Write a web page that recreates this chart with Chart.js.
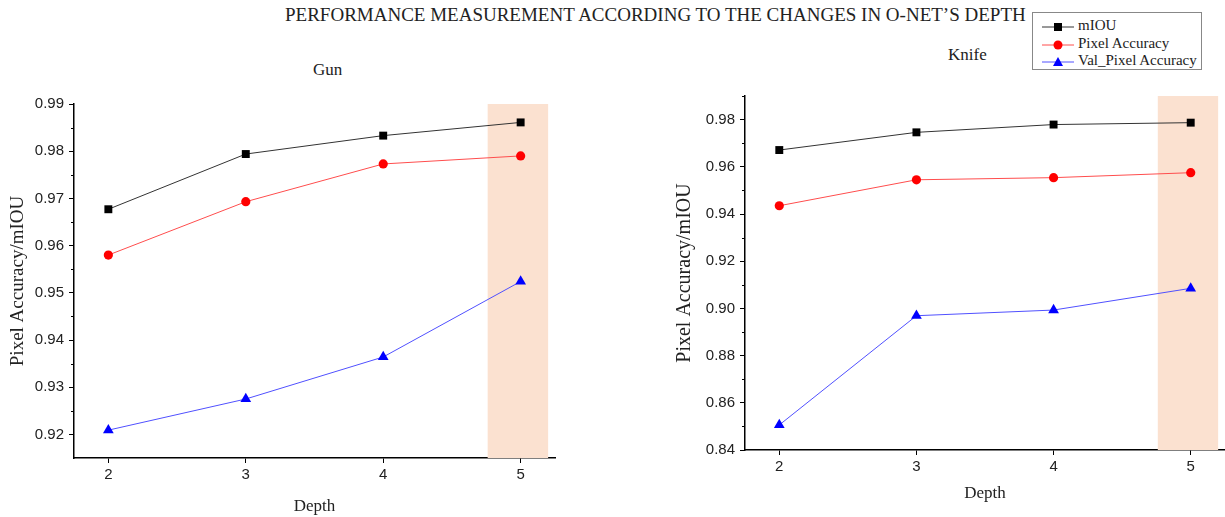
<!DOCTYPE html>
<html>
<head>
<meta charset="utf-8">
<script src="https://cdn.jsdelivr.net/npm/chart.js@4"></script>
<style>
body{margin:0;width:1225px;height:517px;overflow:hidden;background:#fff;position:relative;font-family:"Liberation Serif","Times New Roman",serif;color:#222;}
canvas{position:absolute;top:0;}
#c1{left:0;}
#c2{left:660px;}
.txt{position:absolute;white-space:nowrap;line-height:20px;}
#title{left:285px;top:5px;font-size:19px;}
#gun{left:313px;top:60px;font-size:17px;}
#knife{left:948px;top:45px;font-size:17px;}
#legend{position:absolute;left:1032px;top:12px;width:168px;height:56px;border:1px solid #888;background:#fff;z-index:5;}
#legend .row{position:absolute;left:9px;height:18px;font-size:15px;line-height:18px;}
#legend svg{vertical-align:middle;margin-right:4px;}
</style>
</head>
<body>
<div id="title" class="txt">PERFORMANCE MEASUREMENT ACCORDING TO THE CHANGES IN O-NET’S DEPTH</div>
<div id="gun" class="txt">Gun</div>
<div id="knife" class="txt">Knife</div>
<div id="legend">
  <div class="row" style="top:3px"><svg width="32" height="12"><line x1="0" y1="6" x2="32" y2="6" stroke="#333" stroke-width="1"/><rect x="12" y="2" width="8" height="8" fill="#000"/></svg>mIOU</div>
  <div class="row" style="top:21px"><svg width="32" height="12"><line x1="0" y1="6" x2="32" y2="6" stroke="#ff4d4d" stroke-width="1"/><circle cx="16" cy="6" r="4.5" fill="#f00"/></svg>Pixel Accuracy</div>
  <div class="row" style="top:38px"><svg width="32" height="12"><line x1="0" y1="6" x2="32" y2="6" stroke="#5050ff" stroke-width="1"/><polygon points="16,1 21,10 11,10" fill="#00f"/></svg>Val_Pixel Accuracy</div>
</div>
<canvas id="c1" width="600" height="517"></canvas>
<canvas id="c2" width="565" height="517"></canvas>
<script>
var depths = [2, 3, 4, 5];

var gunMiou     = [0.9677, 0.9794, 0.9833, 0.9861];
var gunPixel    = [0.9580, 0.9693, 0.9773, 0.9790];
var gunValPixel = [0.9209, 0.9275, 0.9364, 0.9524];
var gunTicks    = [0.92, 0.93, 0.94, 0.95, 0.96, 0.97, 0.98, 0.99];

var knifeMiou     = [0.9671, 0.9746, 0.9779, 0.9787];
var knifePixel    = [0.9435, 0.9545, 0.9554, 0.9575];
var knifeValPixel = [0.8506, 0.8969, 0.8993, 0.9085];
var knifeTicks    = [0.84, 0.86, 0.88, 0.90, 0.92, 0.94, 0.96, 0.98];

// depth range highlighted as the best setting
var bestBand = [4.76, 5.2];

var tickFont = {family: '"Liberation Sans", Arial, sans-serif', size: 15};

// shaded column + minor ticks on y axis
var extras = {
	id: 'extras',
	beforeDatasetsDraw: function(chart){
		var ctx = chart.ctx, x = chart.scales.x, a = chart.chartArea;
		var x0 = x.getPixelForValue(bestBand[0]), x1 = x.getPixelForValue(bestBand[1]);
		ctx.save();
		ctx.fillStyle = '#fbe1d0';
		ctx.fillRect(x0, a.top, x1 - x0, a.bottom - a.top);
		ctx.restore();
	},
	afterDraw: function(chart){
		var ctx = chart.ctx, y = chart.scales.y, a = chart.chartArea;
		var t = chart.options.scales.y.majorTicks;
		ctx.save();
		ctx.strokeStyle = '#000';
		ctx.lineWidth = 1;
		ctx.beginPath();
		for (var i = 0; i < t.length; i++) {
			var step = i < t.length - 1 ? t[i+1] - t[i] : t[i] - t[i-1];
			var m = t[i] + step / 2;
			if (m > y.max + 1e-9) continue;
			var py = Math.round(y.getPixelForValue(m)) + 0.5;
			ctx.moveTo(a.left - 3, py);
			ctx.lineTo(a.left, py);
		}
		ctx.stroke();
		ctx.restore();
	}
};

function series(label, vals, marker, line, style, r){
	return {
		label: label,
		data: depths.map(function(d, i){ return {x: d, y: vals[i]}; }),
		borderColor: line,
		borderWidth: 1,
		backgroundColor: marker,
		pointBackgroundColor: marker,
		pointBorderColor: marker,
		pointBorderWidth: 0,
		pointStyle: style,
		pointRadius: r,
		tension: 0
	};
}

function makeChart(id, d){
	var titleFont = {family: '"Liberation Serif", "Times New Roman", serif', size: d.titleSize};
	return new Chart(document.getElementById(id), {
		type: 'line',
		data: {
			datasets: [
				series('mIOU', d.miou, '#000', '#333', 'rect', 5.6),
				series('Pixel Accuracy', d.pixel, '#f00', '#ff4d4d', 'circle', 4.6),
				series('Val_Pixel Accuracy', d.val, '#00f', '#5050ff', 'triangle', 6.2)
			]
		},
		options: {
			responsive: false,
			animation: false,
			layout: {autoPadding: false, padding: {top: d.padTop, right: d.padRight, left: 0, bottom: 0}},
			plugins: {legend: {display: false}, tooltip: {enabled: false}},
			scales: {
				x: {
					type: 'linear', min: 1.75, max: 5.25,
					afterBuildTicks: function(s){ s.ticks = depths.map(function(v){ return {value: v}; }); },
					afterFit: function(s){ s.height = d.xh; },
					grid: {drawOnChartArea: false, color: '#000', tickLength: 5},
					border: {color: '#000', width: 1.5},
					ticks: {font: tickFont, color: '#222', padding: 3, maxRotation: 0, callback: function(v){ return String(v); }},
					title: {display: true, text: 'Depth', font: {family: titleFont.family, size: 17}, color: '#222', padding: {top: 0, bottom: d.xTitlePad}}
				},
				y: {
					type: 'linear', min: d.ymin, max: d.ymax,
					majorTicks: d.ticks,
					afterBuildTicks: function(s){ s.ticks = d.ticks.map(function(v){ return {value: v}; }); },
					afterFit: function(s){ s.width = d.yw; },
					grid: {drawOnChartArea: false, color: '#000', tickLength: 5},
					border: {color: '#000', width: 1.5},
					ticks: {font: tickFont, color: '#222', padding: 5, callback: function(v){ return v.toFixed(2); }},
					title: {display: true, text: 'Pixel Accuracy/mIOU', font: titleFont, color: '#222', padding: {top: d.yTitlePad, bottom: 0}}
				}
			}
		},
		plugins: [extras]
	});
}

makeChart('c1', {
	miou: gunMiou, pixel: gunPixel, val: gunValPixel, ticks: gunTicks,
	ymin: 0.915, ymax: 0.99,
	padTop: 104, padRight: 45, yw: 74, xh: 59, xTitlePad: 0, yTitlePad: 7, titleSize: 19
});
makeChart('c2', {
	miou: knifeMiou, pixel: knifePixel, val: knifeValPixel, ticks: knifeTicks,
	ymin: 0.84, ymax: 0.99,
	padTop: 96, padRight: 0, yw: 85, xh: 67, xTitlePad: 13, yTitlePad: 13, titleSize: 20
});
</script>
</body>
</html>
